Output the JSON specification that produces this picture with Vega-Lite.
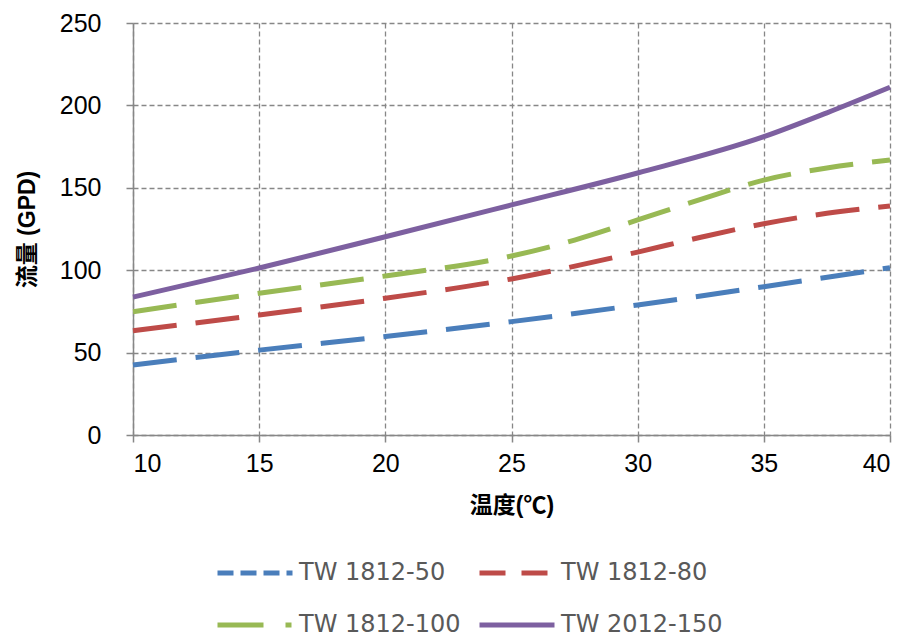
{
  "$schema": "https://vega.github.io/schema/vega-lite/v6.json",
  "width": 757,
  "height": 412,
  "autosize": "none",
  "padding": {"left": 133, "top": 23, "right": 19, "bottom": 205},
  "background": "white",
  "config": {
    "view": {"stroke": null},
    "font": "Liberation Sans, Noto Sans CJK SC"
  },
  "data": {
    "values": [
      {"t": 10, "flow": 42.5, "model": "TW 1812-50"},
      {"t": 15, "flow": 51.5, "model": "TW 1812-50"},
      {"t": 20, "flow": 59.8, "model": "TW 1812-50"},
      {"t": 25, "flow": 68.8, "model": "TW 1812-50"},
      {"t": 30, "flow": 78.9, "model": "TW 1812-50"},
      {"t": 35, "flow": 90, "model": "TW 1812-50"},
      {"t": 40, "flow": 101.5, "model": "TW 1812-50"},
      {"t": 10, "flow": 63.3, "model": "TW 1812-80"},
      {"t": 15, "flow": 72.8, "model": "TW 1812-80"},
      {"t": 20, "flow": 83, "model": "TW 1812-80"},
      {"t": 25, "flow": 94.7, "model": "TW 1812-80"},
      {"t": 30, "flow": 111, "model": "TW 1812-80"},
      {"t": 32.5, "flow": 120, "model": "TW 1812-80"},
      {"t": 35, "flow": 128.2, "model": "TW 1812-80"},
      {"t": 37.5, "flow": 134.5, "model": "TW 1812-80"},
      {"t": 40, "flow": 139, "model": "TW 1812-80"},
      {"t": 10, "flow": 74.8, "model": "TW 1812-100"},
      {"t": 15, "flow": 86, "model": "TW 1812-100"},
      {"t": 20, "flow": 96.5, "model": "TW 1812-100"},
      {"t": 25, "flow": 108.6, "model": "TW 1812-100"},
      {"t": 27.5, "flow": 118.3, "model": "TW 1812-100"},
      {"t": 30, "flow": 130.5, "model": "TW 1812-100"},
      {"t": 32.5, "flow": 143, "model": "TW 1812-100"},
      {"t": 35, "flow": 154.7, "model": "TW 1812-100"},
      {"t": 37.5, "flow": 162, "model": "TW 1812-100"},
      {"t": 40, "flow": 166.9, "model": "TW 1812-100"},
      {"t": 10, "flow": 83.7, "model": "TW 2012-150"},
      {"t": 15, "flow": 101.3, "model": "TW 2012-150"},
      {"t": 20, "flow": 120.3, "model": "TW 2012-150"},
      {"t": 25, "flow": 139.6, "model": "TW 2012-150"},
      {"t": 30, "flow": 159, "model": "TW 2012-150"},
      {"t": 35, "flow": 181, "model": "TW 2012-150"},
      {"t": 37.5, "flow": 195.5, "model": "TW 2012-150"},
      {"t": 40, "flow": 211, "model": "TW 2012-150"}
    ]
  },
  "encoding": {
    "x": {
      "field": "t", "type": "quantitative",
      "scale": {"domain": [10, 40], "nice": false, "zero": false},
      "axis": {
        "values": [10, 15, 20, 25, 30, 35, 40],
        "title": "温度(℃)",
        "titleFont": "Liberation Sans, Noto Sans CJK SC",
        "titleFontSize": 23, "titleFontWeight": "bold", "titleColor": "black", "titlePadding": 18,
        "labelFontSize": 25, "labelColor": "black", "labelPadding": 9, "labelFont": "Liberation Sans",
        "domainColor": "#878787", "domainWidth": 1.5,
        "tickColor": "#878787", "tickSize": 7, "tickWidth": 1.5,
        "grid": true, "gridColor": "#878787", "gridDash": [5, 3], "gridWidth": 1.3, "gridOpacity": 1
      }
    },
    "y": {
      "field": "flow", "type": "quantitative",
      "scale": {"domain": [0, 250], "nice": false},
      "axis": {
        "values": [0, 50, 100, 150, 200, 250],
        "title": "流量 (GPD)",
        "titleFont": "Liberation Sans, Noto Sans CJK SC",
        "titleFontSize": 23, "titleFontWeight": "bold", "titleColor": "black", "titlePadding": 20,
        "labelFontSize": 25, "labelColor": "black", "labelPadding": 25, "labelFont": "Liberation Sans",
        "domainColor": "#878787", "domainWidth": 1.5,
        "tickColor": "#878787", "tickSize": 7, "tickWidth": 1.5,
        "grid": true, "gridColor": "#878787", "gridDash": [5, 3], "gridWidth": 1.3, "gridOpacity": 1
      }
    },
    "color": {
      "field": "model", "type": "nominal",
      "scale": {
        "domain": ["TW 1812-50", "TW 1812-80", "TW 1812-100", "TW 2012-150"],
        "range": ["#4A7EBB", "#BE4B48", "#98B954", "#7D60A0"]
      },
      "legend": {
        "title": null,
        "orient": "none",
        "legendX": 82,
        "legendY": 510,
        "direction": "horizontal",
        "columns": 2,
        "columnPadding": 8,
        "rowPadding": -44,
        "symbolType": "stroke",
        "symbolSize": 5625,
        "symbolStrokeWidth": 5,
        "labelFont": "DejaVu Sans",
        "labelFontSize": 24,
        "labelColor": "#595959",
        "labelOffset": 4,
        "labelLimit": 300,
        "encode": {
          "symbols": {
            "update": {
              "strokeDash": {"signal": "datum.value === 'TW 1812-50' ? [16, 7] : datum.value === 'TW 1812-80' ? [26, 16] : datum.value === 'TW 1812-100' ? [46, 22, 6, 30] : [1, 0]"}
            }
          }
        }
      }
    }
  },
  "layer": [
    {
      "transform": [{"filter": "datum.model !== 'TW 2012-150'"}],
      "mark": {"type": "line", "interpolate": "monotone", "strokeWidth": 5, "strokeCap": "butt", "strokeDash": [44, 19]}
    },
    {
      "transform": [{"filter": "datum.model === 'TW 2012-150'"}],
      "mark": {"type": "line", "interpolate": "monotone", "strokeWidth": 5, "strokeCap": "butt"}
    }
  ]
}
